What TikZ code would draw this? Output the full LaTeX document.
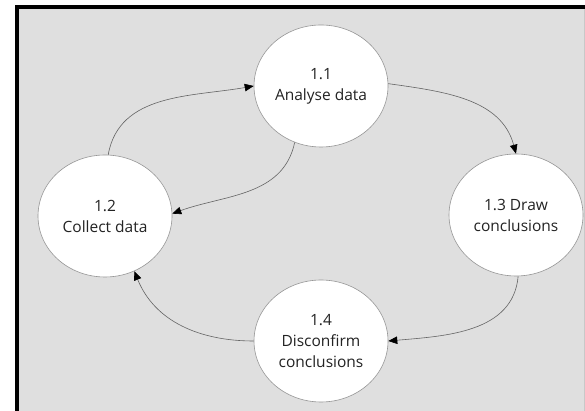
\documentclass[tikz,border=0pt]{standalone}
\usepackage{fontspec}
\setmainfont{Open Sans}
\usetikzlibrary{shapes.geometric,arrows.meta}
\definecolor{panel}{RGB}{223,223,223}
\definecolor{panelrim}{RGB}{200,200,200}
\definecolor{ringline}{RGB}{150,150,150}
\definecolor{flowline}{RGB}{100,100,100}
\definecolor{labeltext}{RGB}{35,35,35}
\begin{document}
\begin{tikzpicture}[x=1pt,y=1pt,
  process/.style={ellipse, draw=ringline, line width=0.6pt, fill=white,
    minimum width=134pt, minimum height=122pt, inner sep=0pt,
    align=center, text=labeltext, font=\fontsize{15.5}{21}\selectfont},
  flow/.style={draw=flowline, line width=0.6pt,
    -{Triangle[length=9pt,width=7.5pt,color=black]}}]
  \useasboundingbox (0,0) rectangle (585,411);
  \clip (0,0) rectangle (585,411);
  \fill[white] (0,0) rectangle (585,411);
  % grey panel with its heavy left and top edges
  \fill[panel] (17,-10) rectangle (584,404);
  \draw[panelrim, line width=0.5pt] (584,-10) -- (584,404);
  \draw[black, line width=3.5pt] (17,-10) -- (17,404) -- (600,404);

  % process bubbles
  \node[process] (c11) at (321,325) {1.1\\Analyse data};
  \node[process] (c12) at (105,195) {1.2\\Collect data};
  \node[process] (c13) at (516,196) {1.3 Draw\\conclusions};
  \node[process] (c14) at (321,70)  {1.4\\Disconfirm\\conclusions};

  % data flows
  \draw[flow] (c12.87)  to[out=80,in=190]  (c11.180);
  \draw[flow] (c11.245) to[out=258,in=20]  (c12.2);
  \draw[flow] (c11.2)   to[out=-8,in=105]  (c13.90);
  \draw[flow] (c13.-88) to[out=-95,in=5]   (c14.0);
  \draw[flow] (c14.180) to[out=180,in=-68] (c12.-62);
\end{tikzpicture}
\end{document}
